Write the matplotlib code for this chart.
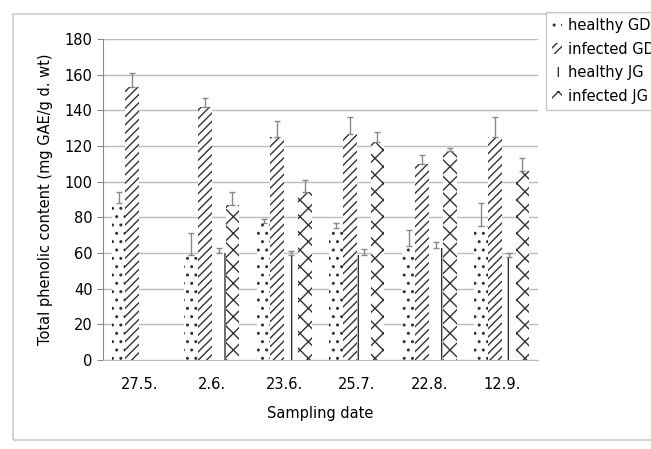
import matplotlib
matplotlib.use("Agg")
import matplotlib.pyplot as plt
import numpy as np
from matplotlib.patches import Rectangle

plt.rcParams['font.family'] = ['DejaVu Sans']
plt.rcParams['hatch.linewidth'] = 1.0

dates = ["27.5.", "2.6.", "23.6.", "25.7.", "22.8.", "12.9."]
series = ["healthy GD", "infected GD", "healthy JG", "infected JG"]
healthy_gd = [88, 59, 77, 74, 64, 75]
healthy_gd_err = [6, 12, 2, 3, 9, 13]
infected_gd = [153, 142, 125, 127, 110, 125]
infected_gd_err = [8, 5, 9, 9, 5, 11]
healthy_jg = [0, 60, 59, 59, 63, 58]
healthy_jg_err = [0, 3, 2, 3, 3, 2]
infected_jg = [0, 87, 94, 122, 117, 106]
infected_jg_err = [0, 7, 7, 6, 2, 7]

values = [healthy_gd, infected_gd, healthy_jg, infected_jg]
errors = [healthy_gd_err, infected_gd_err, healthy_jg_err, infected_jg_err]
hatches = ['..', '////', '|', 'xx']

fig = plt.figure(figsize=(6.51, 4.49), dpi=100)
ax = fig.add_axes([103/651, 1-360/449, 435/651, 321/449])

x = np.arange(len(dates))
w = 0.19
offsets = [-1.5*w, -0.5*w, 0.5*w, 1.5*w]
handles = []
for i in range(4):
    vals = np.array(values[i], dtype=float)
    errs = np.array(errors[i], dtype=float)
    b = ax.bar(x + offsets[i], vals, w, color='white', edgecolor='#333333',
               hatch=hatches[i], linewidth=0, zorder=3, label=series[i])
    mask = vals > 0
    ax.errorbar((x + offsets[i])[mask], vals[mask], yerr=[np.zeros(mask.sum()), errs[mask]],
                fmt='none', ecolor='#888888', elinewidth=1, capsize=2.5, capthick=1, zorder=4)
    handles.append(b)

ax.set_xlim(-0.5, len(dates) - 0.5)
ax.set_ylim(0, 180)
ax.set_yticks(np.arange(0, 181, 20))
ax.set_xticks(x)
ax.set_xticklabels(dates, fontsize=10.5)
ax.tick_params(axis='y', labelsize=10.5, length=4, color='#888888', direction='out')
ax.tick_params(axis='x', length=0, pad=12)
ax.yaxis.grid(True, color='#bbbbbb', linewidth=1, zorder=0)
ax.set_axisbelow(True)
for s in ['top', 'right']:
    ax.spines[s].set_visible(False)
ax.spines['left'].set_color('#888888')
ax.spines['bottom'].set_color('#bbbbbb')
ax.set_ylabel("Total phenolic content (mg GAE/g d. wt)", fontsize=10.5, labelpad=8)
ax.set_xlabel("Sampling date", fontsize=10.5, labelpad=10)

leg = fig.legend(handles=handles, labels=series, loc='upper left',
                 bbox_to_anchor=(546/651, 1-12/449), fontsize=10.5,
                 frameon=True, fancybox=False, edgecolor='#bbbbbb',
                 handlelength=0.7, handleheight=0.7, handletextpad=0.4,
                 labelspacing=0.6, borderpad=0.4, borderaxespad=0)
leg.get_frame().set_linewidth(1)

fig.patches.append(Rectangle((13/651, 1-440/449), 700/651, 426/449, transform=fig.transFigure,
                             fill=False, edgecolor='#cccccc', linewidth=1.2))

fig.savefig("out.png", dpi=100)
